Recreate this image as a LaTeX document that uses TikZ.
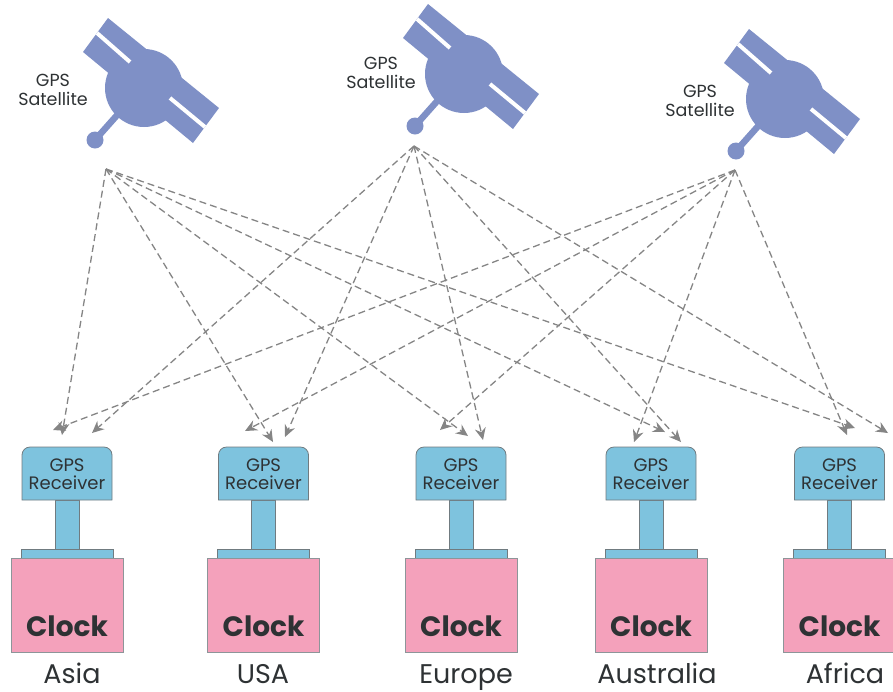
\documentclass[tikz,border=0pt]{standalone}
\usepackage{fontspec}
\setmainfont{Poppins}
\usetikzlibrary{arrows.meta}
\definecolor{satblue}{HTML}{7F90C6}
\definecolor{rcvblue}{HTML}{7EC3DE}
\definecolor{clockpink}{HTML}{F4A1BB}
\definecolor{edgegray}{HTML}{707B80}
\definecolor{linkgray}{HTML}{858585}
\definecolor{textgray}{HTML}{2E3234}
\tikzset{
	satlabel/.style={align=center,font=\fontsize{17.5}{18.5}\selectfont,text=textgray,inner sep=0pt},
	rcvlabel/.style={align=center,font=\fontsize{18}{18.5}\selectfont,text=textgray,inner sep=0pt},
	clocklabel/.style={anchor=base,font=\fontsize{28}{28}\selectfont\bfseries,text=textgray,inner sep=0pt},
	sitelabel/.style={anchor=base,font=\fontsize{27}{27}\selectfont,text=textgray,inner sep=0pt},
	rcvpart/.style={fill=rcvblue,draw=edgegray,line width=0.8pt},
	clockpart/.style={fill=clockpink,draw=edgegray!80,line width=0.8pt},
	link/.style={->,draw=linkgray,line width=1.3pt,dash pattern=on 7pt off 4pt},
	pics/satellite/.style={code={
		\fill[satblue] (-36,-70)--(75,20)--(49,55)--(-61,-36)--cycle;
		\fill[satblue] (0,0) circle (39pt);
		\draw[satblue,line width=6.5pt] (-25,25)--(-49,52);
		\fill[satblue] (-49,52) circle (8.5pt);
		\draw[white,line width=4pt] (-47,-55)--(-14,-26);
		\draw[white,line width=4pt] (26,10)--(61,39);
	}}
}
\begin{document}
\begin{tikzpicture}[x=1pt,y=-1pt,>={Stealth[length=12pt,width=11pt,inset=4pt]}]
	\useasboundingbox (0,0) rectangle (893,691);
	% satellites
	\pic at (144,88) {satellite};
	\pic at (464,74) {satellite};
	\pic at (785,99) {satellite};
	\node[satlabel] (label1) at (53,90) {GPS\\Satellite};
	\node[satlabel] (label2) at (381,73) {GPS\\Satellite};
	\node[satlabel] (label3) at (700,101) {GPS\\Satellite};
	\coordinate (sat1) at (106,169);
	\coordinate (sat2) at (414,146);
	\coordinate (sat3) at (735,170);
	% receivers and clocks
	\foreach \x/\name/\place/\lx in {67/asia/Asia/72,263.5/usa/USA/263,461/europe/Europe/466,651/australia/Australia/657,839.5/africa/Africa/845}{
		\draw[rcvpart] (\x-12,500) rectangle (\x+12,550);
		\draw[rcvpart] (\x-46,549) rectangle (\x+46,558);
		\draw[rcvpart] (\x-45,500) [rounded corners=8pt] -- (\x-45,447) -- (\x+45,447) [sharp corners] -- (\x+45,500) -- cycle;
		\draw[clockpart] (\x-56,558) rectangle (\x+56,652);
		\node[rcvlabel] (rcv\name) at (\x,474) {GPS\\Receiver};
		\node[clocklabel] (clock\name) at (\x,636) {Clock};
		\node[sitelabel] (site\name) at (\lx,683) {\place};
	}
	% signal paths
	\foreach \tip/\px/\py in {a1/62/435,a2/92/433,a3/53/430,u1/273/442,u2/285/437,u3/245/431,e1/468/436,e2/483/440,e3/440/430,o1/665/432,o2/681/442,o3/634/442,f1/855/428,f2/888/433,f3/847/435}{
		\coordinate (\tip) at (\px,\py);
	}
	\foreach \s/\tips in {sat1/{a1,u1,e1,o1,f1},sat2/{a2,u2,e2,o2,f2},sat3/{a3,u3,e3,o3,f3}}{
		\foreach \t in \tips{
			\draw[link] (\s) -- (\t);
		}
	}
\end{tikzpicture}
\end{document}
